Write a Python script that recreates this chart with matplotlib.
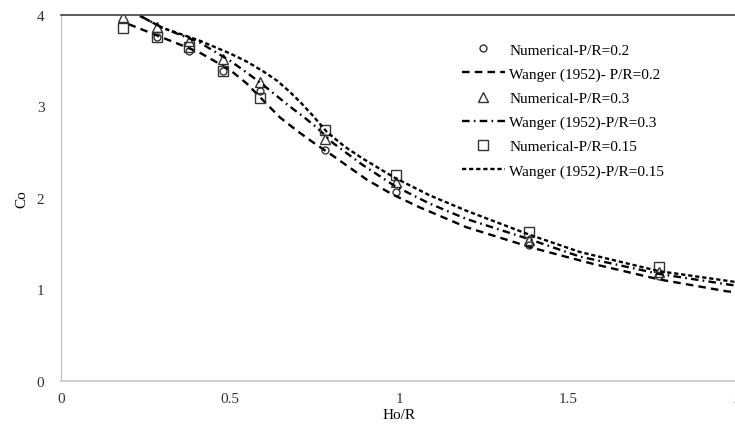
import matplotlib
matplotlib.use("Agg")
import matplotlib.pyplot as plt

# numerical results (Ho/R, Co)
x_num = [0.183, 0.284, 0.38, 0.48, 0.59, 0.78, 0.99, 1.385, 1.77]
co_num_02 = [None, 3.76, 3.61, 3.39, 3.17, 2.52, 2.07, 1.49, 1.15]
co_num_03 = [3.98, 3.87, 3.72, 3.52, 3.27, 2.64, 2.17, 1.54, 1.19]
co_num_015 = [3.86, 3.76, 3.65, 3.39, 3.09, 2.74, 2.25, 1.63, 1.25]

# Wanger (1952) curves
x_w02 = [0.2, 0.35, 0.41, 0.5, 0.55, 0.6, 0.648, 0.7, 0.745, 0.805, 0.905, 0.98, 1.06, 1.2, 1.4, 1.574, 1.77, 1.97, 2.0]
co_w02 = [3.90, 3.68, 3.59, 3.40, 3.25, 3.06, 2.88, 2.73, 2.61, 2.46, 2.20, 2.04, 1.90, 1.68, 1.45, 1.28, 1.11, 0.98, 0.97]
x_w03 = [0.234, 0.3, 0.41, 0.5, 0.55, 0.6, 0.64, 0.677, 0.72, 0.757, 0.805, 0.893, 0.988, 1.09, 1.2, 1.385, 1.535, 1.77, 2.0]
co_w03 = [3.99, 3.86, 3.70, 3.50, 3.37, 3.23, 3.11, 3.00, 2.88, 2.77, 2.60, 2.36, 2.13, 1.94, 1.77, 1.55, 1.36, 1.17, 1.04]
x_w015 = [0.234, 0.3, 0.41, 0.5, 0.55, 0.6, 0.64, 0.677, 0.71, 0.745, 0.787, 0.84, 0.893, 0.988, 1.09, 1.2, 1.385, 1.535, 1.77, 2.0]
co_w015 = [3.99, 3.86, 3.72, 3.58, 3.49, 3.38, 3.28, 3.16, 3.04, 2.90, 2.72, 2.56, 2.43, 2.22, 2.03, 1.86, 1.60, 1.41, 1.20, 1.08]

plt.rcParams["font.family"] = ["Liberation Serif", "DejaVu Serif"]
plt.rcParams["font.size"] = 11

fig = plt.figure(figsize=(7.35, 4.27), dpi=100)
ax = fig.add_axes([61 / 735, 45 / 427, 676 / 735, 366 / 427])

mk = dict(linestyle="none", markerfacecolor="none", markeredgecolor="#333333", markeredgewidth=1)
x02 = [x for x, c in zip(x_num, co_num_02) if c is not None]
c02 = [c for c in co_num_02 if c is not None]

ax.plot(x02, c02, marker="o", markersize=5, label="Numerical-P/R=0.2", **mk)
ax.plot(x_w02, co_w02, color="black", lw=1.7, dashes=(3.2, 2.2), label="Wanger (1952)- P/R=0.2")
ax.plot(x_num, co_num_03, marker="^", markersize=7, label="Numerical-P/R=0.3", **mk)
ax.plot(x_w03, co_w03, color="black", lw=1.7, dashes=(3.2, 1.8, 0.7, 1.8), label="Wanger (1952)-P/R=0.3")
ax.plot(x_num, co_num_015, marker="s", markersize=7, label="Numerical-P/R=0.15", **mk)
ax.plot(x_w015, co_w015, color="black", lw=1.7, dashes=(1.8, 1.2), label="Wanger (1952)-P/R=0.15")

ax.set_xlim(0, 2)
ax.set_ylim(0, 4)
ax.set_xticks([0, 0.5, 1, 1.5, 2])
ax.set_xticklabels(["0", "0.5", "1", "1.5", "2"])
ax.set_yticks([0, 1, 2, 3, 4])
ax.tick_params(length=0, labelsize=11, colors="#333333")
ax.tick_params(axis="y", pad=12)
ax.tick_params(axis="x", pad=8)

ax.spines["right"].set_visible(False)
ax.spines["top"].set_color("#404040")
ax.spines["top"].set_linewidth(1.2)
ax.spines["left"].set_color("#bfbfbf")
ax.spines["bottom"].set_color("#d0d0d0")
ax.spines["bottom"].set_linewidth(1.5)

ax.set_xlabel("Ho/R", fontsize=11, labelpad=2)
ax.set_ylabel("Co", fontsize=11, labelpad=6)

ax.legend(loc="upper left", bbox_to_anchor=(462 / 735, 1 - 44 / 427), bbox_transform=fig.transFigure,
          frameon=False, fontsize=11, handlelength=2.8, handletextpad=0.3, labelspacing=0.68,
          borderpad=0, borderaxespad=0)

fig.savefig("out.png", dpi=100)
